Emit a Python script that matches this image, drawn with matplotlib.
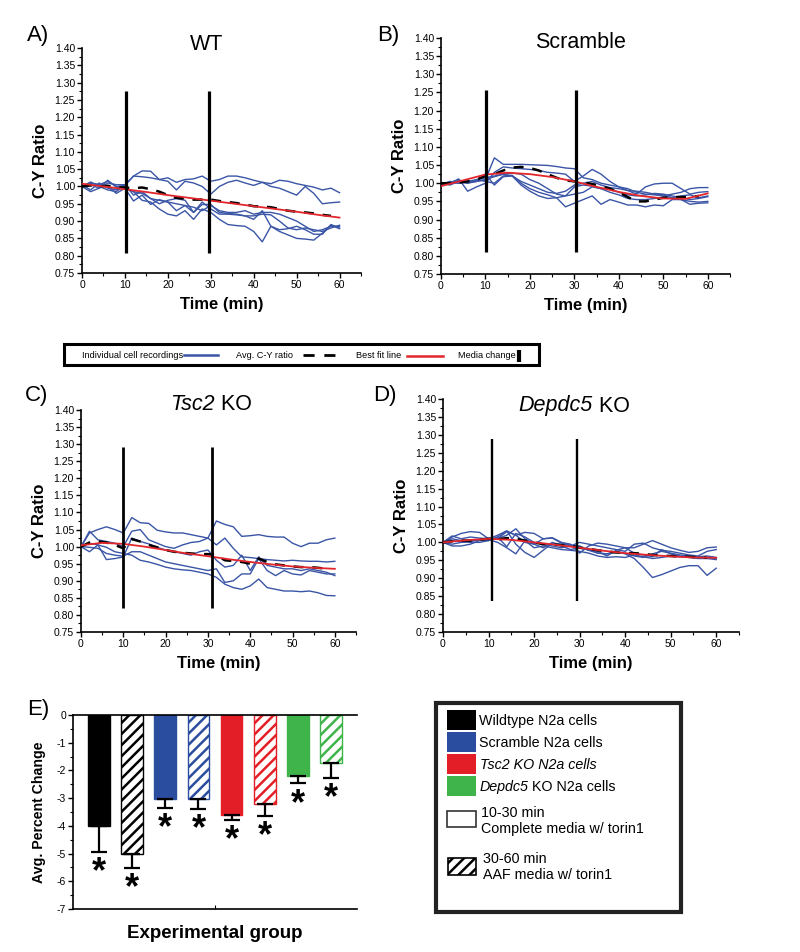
import matplotlib
matplotlib.use("Agg")
import matplotlib.pyplot as plt
import numpy as np
from matplotlib.patches import Rectangle
from matplotlib.ticker import MultipleLocator, FixedLocator

plt.rcParams['font.family'] = ['Liberation Sans', 'DejaVu Sans']
plt.rcParams['hatch.linewidth'] = 1.8

# ---------------- data ----------------
times = list(range(0, 61, 2))
fit_times = list(range(0, 61, 5))

A_cells = [
    [1.000,1.010,1.005,1.015,1.000,1.003,1.030,1.045,1.044,1.020,1.025,1.012,1.020,1.022,1.030,1.015,1.020,1.030,1.030,1.025,1.018,1.012,1.008,1.018,1.015,1.008,1.003,0.998,0.990,0.995,0.982],
    [1.000,1.013,1.000,0.990,0.985,1.005,1.030,1.028,1.025,1.020,1.015,0.990,1.015,1.010,1.000,0.978,1.000,1.012,1.018,1.010,1.003,1.012,1.000,0.995,0.985,0.975,1.000,0.980,0.950,0.953,0.955],
    [1.000,0.985,0.995,1.018,0.998,0.995,0.958,0.975,0.948,0.962,0.955,0.930,0.945,0.925,0.955,0.935,0.920,0.920,0.918,0.915,0.905,0.930,0.885,0.875,0.878,0.885,0.875,0.862,0.862,0.890,0.880],
    [1.005,0.990,1.010,0.995,0.990,0.998,0.985,0.960,0.955,0.935,0.920,0.915,0.930,0.905,0.935,0.925,0.905,0.890,0.887,0.885,0.870,0.840,0.885,0.870,0.860,0.850,0.848,0.845,0.865,0.888,0.878],
    [1.000,1.010,1.005,1.000,0.980,0.995,0.985,0.980,0.965,0.960,0.955,0.950,0.945,0.940,0.930,0.945,0.930,0.925,0.925,0.930,0.920,0.925,0.925,0.920,0.910,0.900,0.885,0.870,0.875,0.885,0.885],
    [1.000,1.005,0.995,1.010,1.005,1.005,0.975,0.985,0.965,0.950,0.960,0.965,0.960,0.925,0.948,0.948,0.925,0.922,0.920,0.915,0.915,0.920,0.918,0.900,0.880,0.875,0.880,0.875,0.870,0.880,0.888],
]
A_avg = [1.000,1.003,1.000,1.002,0.998,0.997,0.995,0.997,0.992,0.985,0.975,0.967,0.965,0.962,0.962,0.962,0.958,0.955,0.952,0.948,0.943,0.942,0.940,0.935,0.930,0.927,0.925,0.922,0.918,0.915]
A_fit = [1.008,1.000,0.992,0.984,0.975,0.967,0.959,0.951,0.943,0.935,0.927,0.918,0.910]

B_cells = [
    [1.000,1.003,1.008,1.005,1.005,1.010,1.070,1.052,1.052,1.052,1.051,1.050,1.049,1.046,1.042,1.040,1.015,1.010,1.000,0.995,0.990,0.985,0.975,0.970,0.968,0.965,0.970,0.975,0.985,0.988,0.988],
    [1.000,1.000,1.012,0.978,0.990,1.000,1.030,1.045,1.042,1.040,1.038,1.035,1.030,1.028,1.025,1.005,1.020,1.038,1.025,1.005,0.990,0.980,0.970,0.990,0.998,1.000,1.000,0.985,0.970,0.975,0.977],
    [0.995,1.005,1.000,1.005,1.010,1.015,1.020,1.025,1.028,1.025,1.010,1.000,0.985,0.970,0.965,0.990,0.995,0.992,0.985,0.985,0.975,0.968,0.965,0.968,0.972,0.970,0.965,0.960,0.955,0.958,0.963],
    [1.000,0.995,1.005,1.000,1.010,1.005,1.000,1.020,1.022,1.000,0.985,0.975,0.968,0.960,0.965,0.970,0.975,0.990,0.985,0.975,0.968,0.958,0.955,0.955,0.958,0.962,0.958,0.955,0.950,0.948,0.950],
    [1.000,1.000,1.005,1.000,1.005,1.025,0.995,1.018,1.020,0.995,0.978,0.965,0.958,0.960,0.935,0.945,0.955,0.965,0.942,0.955,0.948,0.940,0.940,0.935,0.940,0.938,0.955,0.955,0.942,0.945,0.946],
    [0.998,1.002,1.000,1.003,1.005,1.010,1.018,1.025,1.020,1.005,0.995,0.985,0.975,0.972,0.978,0.995,1.000,1.005,0.995,0.988,0.985,0.980,0.978,0.975,0.970,0.968,0.960,0.965,0.968,0.960,0.965],
]
B_avg = [1.000,1.000,1.002,1.005,1.010,1.020,1.025,1.035,1.043,1.045,1.042,1.035,1.025,1.015,1.008,1.005,1.002,0.998,0.992,0.985,0.975,0.962,0.950,0.950,0.955,0.960,0.962,0.962,0.962,0.965]
B_fit = [0.992,1.008,1.024,1.029,1.025,1.017,1.005,0.990,0.976,0.965,0.958,0.957,0.972]

C_cells = [
    [1.000,1.040,1.050,1.058,1.050,1.040,1.085,1.070,1.068,1.048,1.043,1.040,1.040,1.035,1.030,1.025,1.075,1.065,1.058,1.030,1.032,1.035,1.030,1.028,1.028,1.010,1.000,1.010,1.010,1.020,1.025],
    [1.000,1.045,1.020,1.015,1.010,1.000,1.045,1.050,1.020,1.010,1.000,0.995,1.005,1.012,1.015,1.025,1.005,1.025,0.995,0.970,0.968,0.965,0.962,0.960,0.958,0.960,0.958,0.957,0.957,0.955,0.957],
    [1.000,0.985,1.005,0.962,0.965,0.970,1.025,1.015,1.008,0.998,0.990,0.985,0.980,0.975,0.985,0.990,0.960,0.940,0.945,0.975,0.930,0.970,0.945,0.940,0.935,0.935,0.930,0.935,0.930,0.925,0.915],
    [1.000,0.998,0.995,0.980,0.975,0.972,0.985,0.985,0.975,0.965,0.955,0.950,0.945,0.940,0.935,0.930,0.935,0.895,0.900,0.920,0.920,0.965,0.930,0.915,0.930,0.920,0.917,0.930,0.925,0.920,0.920],
    [1.000,1.010,1.005,0.998,0.985,0.980,0.975,0.960,0.955,0.948,0.940,0.935,0.932,0.930,0.925,0.920,0.910,0.890,0.880,0.875,0.885,0.905,0.880,0.875,0.870,0.870,0.868,0.870,0.865,0.857,0.856],
]
C_avg = [1.000,1.012,1.015,1.012,1.005,0.995,1.022,1.015,1.005,0.998,0.990,0.985,0.982,0.980,0.978,0.978,0.975,0.960,0.958,0.955,0.950,0.965,0.955,0.948,0.945,0.942,0.940,0.940,0.938,0.935]
C_fit = [1.004,1.011,1.008,1.000,0.990,0.980,0.972,0.963,0.955,0.948,0.942,0.938,0.935]

D_cells = [
    [1.000,1.015,1.025,1.030,1.028,1.010,1.010,1.030,1.020,1.028,1.025,1.010,1.013,1.000,0.995,0.970,0.990,0.998,0.995,0.990,0.985,0.985,0.995,1.005,0.995,0.985,0.978,0.972,0.975,0.985,0.987],
    [1.000,1.010,1.005,1.005,1.008,1.012,1.010,1.020,1.038,1.010,0.995,0.985,1.000,0.990,0.980,0.985,0.980,0.970,0.968,0.975,0.968,0.955,0.930,0.902,0.910,0.920,0.930,0.935,0.935,0.908,0.928],
    [1.000,0.990,0.990,0.995,1.005,1.008,1.000,0.985,0.968,1.005,0.985,0.990,0.985,0.980,0.978,0.975,0.970,0.962,0.958,0.960,0.958,0.965,0.960,0.955,0.958,0.962,0.960,0.958,0.955,0.955,0.952],
    [1.000,1.018,1.010,1.015,1.012,1.010,1.020,1.032,0.995,0.972,0.958,0.978,0.998,0.995,0.992,0.990,0.978,0.975,0.962,0.978,0.985,0.970,0.965,0.960,0.980,0.968,0.962,0.958,0.960,0.962,0.958],
    [1.000,0.995,1.000,1.002,1.008,1.005,1.015,0.988,1.025,1.015,1.000,0.995,0.990,0.985,0.990,1.000,0.995,0.990,0.985,0.980,0.975,0.995,0.998,0.985,0.978,0.975,0.970,0.965,0.962,0.975,0.980],
    [1.000,1.005,1.002,1.000,1.000,1.005,1.015,1.032,1.020,1.000,0.995,1.010,1.012,0.998,0.992,0.985,0.978,0.970,0.968,0.972,0.970,0.962,0.958,0.968,0.975,0.970,0.965,0.962,0.960,0.958,0.955],
]
D_avg = [1.000,1.003,1.005,1.005,1.008,1.010,1.008,1.012,1.010,1.005,1.000,0.995,0.995,0.992,0.990,0.985,0.982,0.978,0.975,0.972,0.970,0.970,0.968,0.965,0.963,0.962,0.960,0.960,0.958,0.957]
D_fit = [1.000,1.006,1.010,1.007,1.000,0.993,0.985,0.977,0.970,0.965,0.961,0.958,0.957]

media_times = {'A': [10.3, 29.6], 'B': [10.1, 30.4], 'C': [9.9, 31.0], 'D': [10.8, 29.5]}
media_span = {'A': (0.808, 1.275), 'B': (0.81, 1.256), 'C': (0.82, 1.291), 'D': (0.837, 1.288)}
media_lw = {'A': 2.3, 'B': 2.3, 'C': 2.0, 'D': 1.7}

# panel E
bar_groups = ['WT 10-30', 'WT 30-60', 'Scr 10-30', 'Scr 30-60',
              'Tsc2 10-30', 'Tsc2 30-60', 'Depdc5 10-30', 'Depdc5 30-60']
bar_values = [-4.0, -5.0, -3.02, -3.02, -3.6, -3.22, -2.2, -1.72]
bar_errors = [0.95, 0.53, 0.33, 0.37, 0.18, 0.41, 0.27, 0.54]
bar_colors = ['#000000', '#000000', '#2a4d9f', '#2a4d9f', '#e41e26', '#e41e26', '#3fb44a', '#3fb44a']
bar_hatched = [False, True, False, True, False, True, False, True]

legend_colors = ['#000000', '#2a4d9f', '#e41e26', '#3fb44a']

BLUE = '#3a55a6'
RED = '#e3262b'

# ---------------- figure ----------------
W, H = 800, 952
fig = plt.figure(figsize=(W / 100, H / 100), dpi=100)

def px_axes(l, t, r, b):
    return fig.add_axes([l / W, 1 - b / H, (r - l) / W, (b - t) / H])

panels = {
    'A': dict(box=(82, 48, 361, 273), cells=A_cells, avg=A_avg, fit=A_fit),
    'B': dict(box=(441, 38, 730, 274), cells=B_cells, avg=B_avg, fit=B_fit),
    'C': dict(box=(81, 410, 356, 632), cells=C_cells, avg=C_avg, fit=C_fit),
    'D': dict(box=(443, 399, 739, 632), cells=D_cells, avg=D_avg, fit=D_fit),
}

for key, p in panels.items():
    ax = px_axes(*p['box'])
    for c in p['cells']:
        ax.plot(times, c, color=BLUE, lw=1.0, zorder=2)
    ax.plot(times[:len(p['avg'])], p['avg'], color='black', lw=1.8,
            dashes=(4, 3.5), zorder=3)
    ax.plot(fit_times, p['fit'], color=RED, lw=1.3, zorder=4)
    lo, hi = media_span[key]
    for mt in media_times[key]:
        ax.plot([mt, mt], [lo, hi], color='black', lw=media_lw[key], zorder=5,
                solid_capstyle='butt')
    ax.set_xlim(0, 65)
    ax.set_ylim(0.75, 1.40)
    ax.yaxis.set_major_locator(MultipleLocator(0.05))
    ax.yaxis.set_minor_locator(MultipleLocator(0.025))
    ax.xaxis.set_major_locator(FixedLocator([0, 10, 20, 30, 40, 50, 60]))
    ax.xaxis.set_minor_locator(MultipleLocator(5))
    ax.yaxis.set_major_formatter(matplotlib.ticker.FormatStrFormatter('%.2f'))
    for s in ['top', 'right']:
        ax.spines[s].set_visible(False)
    for s in ['left', 'bottom']:
        ax.spines[s].set_linewidth(1.2)
    ax.tick_params(axis='both', which='major', labelsize=7.5, length=3.5, width=1, pad=1.5, direction='out')
    ax.tick_params(axis='both', which='minor', length=2, width=0.8, direction='out')
    ax.set_xlabel('Time (min)', fontsize=12, fontweight='bold', labelpad=5)
    ax.set_ylabel('C-Y Ratio', fontsize=12, fontweight='bold', labelpad=5)
    ax.patch.set_alpha(0)

# overlay for figure-level text and legends
ov = fig.add_axes([0, 0, 1, 1], zorder=10)
ov.set_xlim(0, W)
ov.set_ylim(H, 0)
ov.axis('off')
ov.patch.set_alpha(0)

# panel letters
for txt, x, y in [('A)', 27, 36), ('B)', 377, 36), ('C)', 25, 395), ('D)', 373, 395), ('E)', 27, 709)]:
    ov.text(x, y, txt, fontsize=16, ha='left', va='center')

# titles
ov.text(207, 44, 'WT', fontsize=15.5, ha='center', va='center')
ov.text(580, 43, 'Scramble', fontsize=15.5, ha='center', va='center')
ov.text(215, 405, 'Tsc2', fontsize=15.5, ha='right', va='center', style='italic')
ov.text(215, 405, ' KO', fontsize=15.5, ha='left', va='center')
ov.text(593, 406, 'Depdc5', fontsize=15.5, ha='right', va='center', style='italic')
ov.text(593, 406, ' KO', fontsize=15.5, ha='left', va='center')

# top legend bar
ov.add_patch(Rectangle((64, 344), 475, 21, fill=False, lw=2.2, ec='black'))
lfont = dict(fontsize=6.6, ha='left', va='center')
ov.text(82, 355, 'Individual cell recordings', **lfont)
ov.plot([184, 218], [355, 355], color=BLUE, lw=1.8)
ov.text(236, 355, 'Avg. C-Y ratio', **lfont)
ov.plot([303, 337], [355, 355], color='black', lw=2.0, dashes=(4, 3.5))
ov.text(356, 356, 'Best fit line', **lfont)
ov.plot([407, 443], [356, 356], color=RED, lw=1.8)
ov.text(458, 356, 'Media change', **lfont)
ov.plot([519, 519], [350, 362], color='black', lw=3, solid_capstyle='butt')

# legend box for E
ov.add_patch(Rectangle((436, 703), 245, 209, fill=False, lw=3, ec='#222222'))
ys = [720, 742, 764, 786]
for col, yy in zip(legend_colors, ys):
    ov.add_patch(Rectangle((447, yy - 10), 29, 20, fc=col, ec='none'))
ov.text(479, ys[0] + 1, 'Wildtype N2a cells', fontsize=10.3, ha='left', va='center')
ov.text(479, ys[1] + 1, 'Scramble N2a cells', fontsize=10.3, ha='left', va='center')
ov.text(480, ys[2] + 1, 'Tsc2 KO N2a cells', fontsize=10.3, ha='left', va='center', style='italic')
ov.text(528, ys[3] + 1, 'Depdc5', fontsize=10.3, ha='right', va='center', style='italic')
ov.text(528, ys[3] + 1, ' KO N2a cells', fontsize=10.3, ha='left', va='center')
ov.add_patch(Rectangle((447, 811), 29, 16, fc='white', ec='#333333', lw=1.2))
ov.text(481, 813, '10-30 min', fontsize=10.3, ha='left', va='center')
ov.text(481, 829, 'Complete media w/ torin1', fontsize=10.3, ha='left', va='center')
ov.add_patch(Rectangle((448, 858), 28, 17, fc='white', ec='black', lw=1.2, hatch='///'))
ov.text(483, 859, '30-60 min', fontsize=10.3, ha='left', va='center')
ov.text(483, 875, 'AAF media w/ torin1', fontsize=10.3, ha='left', va='center')

# ---------------- panel E ----------------
axE = px_axes(73, 715, 357, 909)
xs = np.arange(len(bar_values))
for i, (v, e, c, h) in enumerate(zip(bar_values, bar_errors, bar_colors, bar_hatched)):
    if h:
        axE.bar(xs[i], v, width=0.66, color='white', edgecolor=c, hatch='///', lw=1.0, zorder=2)
    else:
        axE.bar(xs[i], v, width=0.66, color=c, edgecolor=c, lw=1.0, zorder=2)
    axE.errorbar(xs[i], v, yerr=[[e], [0]], fmt='none', ecolor='black',
                 elinewidth=1.6, capsize=6, capthick=1.6, zorder=3)
    axE.text(xs[i], v - e - 0.12, '*', fontsize=26, fontweight='bold',
             ha='center', va='top', zorder=4)
axE.set_xlim(-0.79, 7.79)
axE.set_ylim(-7, 0)
axE.yaxis.set_major_locator(MultipleLocator(1))
axE.yaxis.set_minor_locator(MultipleLocator(0.5))
axE.set_xticks([3.5])
axE.set_xticklabels([])
axE.spines['right'].set_visible(False)
for s in ['left', 'bottom', 'top']:
    axE.spines[s].set_linewidth(1.2)
axE.tick_params(axis='y', which='major', labelsize=7.5, length=3.5, width=1, pad=1.5)
axE.tick_params(axis='y', which='minor', length=2, width=0.8)
axE.tick_params(axis='x', length=3, direction='in')
axE.yaxis.set_major_formatter(matplotlib.ticker.FuncFormatter(lambda v, p: '%d' % v))
axE.set_ylabel('Avg. Percent Change', fontsize=10.2, fontweight='bold', labelpad=8)
axE.set_xlabel('Experimental group', fontsize=13.5, fontweight='bold', labelpad=8)
axE.patch.set_alpha(0)

fig.savefig('out.png', dpi=100)
